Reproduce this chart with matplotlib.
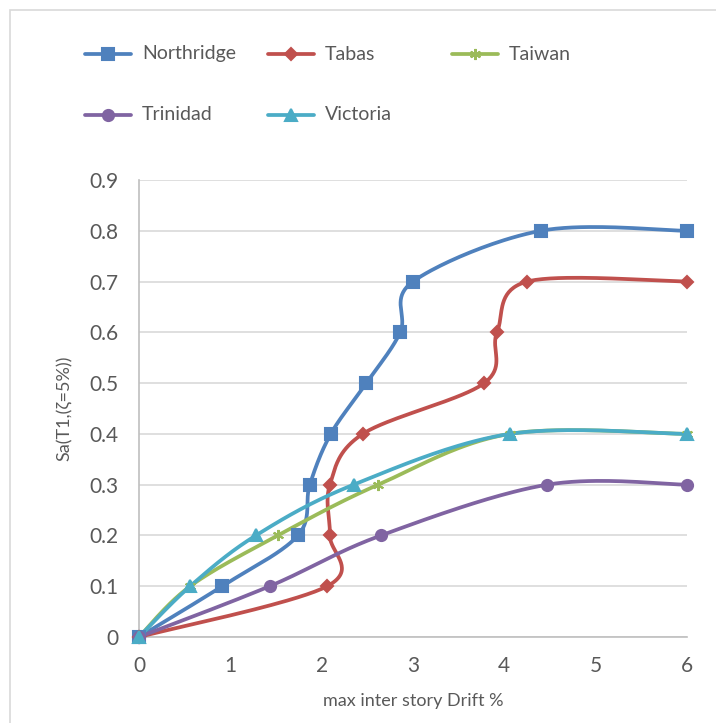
import numpy as np
import matplotlib.pyplot as plt
from matplotlib.lines import Line2D
from matplotlib.patches import Rectangle

# drift (%) vs Sa for each record
northridge_x = [0, 0.91, 1.74, 1.87, 2.10, 2.49, 2.86, 3.00, 4.40, 6.0]
northridge_y = [0, 0.1, 0.2, 0.3, 0.4, 0.5, 0.6, 0.7, 0.8, 0.8]
tabas_x = [0, 2.06, 2.09, 2.09, 2.45, 3.78, 3.92, 4.25, 6.0]
tabas_y = [0, 0.1, 0.2, 0.3, 0.4, 0.5, 0.6, 0.7, 0.7]
taiwan_x = [0, 0.56, 1.52, 2.62, 4.06, 6.0]
taiwan_y = [0, 0.1, 0.2, 0.3, 0.4, 0.4]
trinidad_x = [0, 1.43, 2.65, 4.47, 6.0]
trinidad_y = [0, 0.1, 0.2, 0.3, 0.3]
victoria_x = [0, 0.56, 1.28, 2.35, 4.06, 6.0]
victoria_y = [0, 0.1, 0.2, 0.3, 0.4, 0.4]

names = ["Northridge", "Tabas", "Taiwan", "Trinidad", "Victoria"]
colors = ["#4F81BD", "#C0504D", "#9BBB59", "#8064A2", "#4BACC6"]
markers = ["s", "D", (6, 2, 0), "o", "^"]
msizes = [8, 6, 8, 8, 8]
xticks = [0, 1, 2, 3, 4, 5, 6]
yticks = [0, 0.1, 0.2, 0.3, 0.4, 0.5, 0.6, 0.7, 0.8, 0.9]

plt.rcParams['font.family'] = ['Lato', 'DejaVu Sans']
txt = "#595959"

W, H = 716, 723
fig = plt.figure(figsize=(W / 100, H / 100), dpi=100)
ax = fig.add_axes([139 / W, 86 / H, 548 / W, 457 / H])
ax.set_xlim(0, 6)
ax.set_ylim(0, 0.9)


def smooth(xs, ys, n=40):
    # catmull-rom style bezier through the points, done in pixel space
    sx, sy = 548 / 6.0, 457 / 0.9
    p = np.column_stack([np.array(xs) * sx, np.array(ys) * sy])
    out = [p[0]]
    for i in range(len(p) - 1):
        p0 = p[i - 1] if i > 0 else p[i]
        p1, p2 = p[i], p[i + 1]
        p3 = p[i + 2] if i + 2 < len(p) else p[i + 1]
        c1 = p1 + (p2 - p0) / 6.0
        c2 = p2 - (p3 - p1) / 6.0
        t = np.linspace(0, 1, n)[1:, None]
        seg = ((1 - t) ** 3) * p1 + 3 * ((1 - t) ** 2) * t * c1 + 3 * (1 - t) * t ** 2 * c2 + t ** 3 * p2
        out.extend(seg)
    out = np.array(out)
    return out[:, 0] / sx, out[:, 1] / sy


series = [(northridge_x, northridge_y), (tabas_x, tabas_y), (taiwan_x, taiwan_y),
          (trinidad_x, trinidad_y), (victoria_x, victoria_y)]
for (xs, ys), c, m, ms in zip(series, colors, markers, msizes):
    cx, cy = smooth(xs, ys)
    ax.plot(cx, cy, color=c, lw=2.7, solid_capstyle='round', clip_on=False, zorder=3)
    ax.plot(xs, ys, ls='none', marker=m, ms=ms, color=c, mec=c, mew=1.5, clip_on=False, zorder=4)

ax.set_xticks(xticks)
ax.set_yticks(yticks)
ax.set_xticklabels([str(v) for v in xticks])
ax.set_yticklabels(["0"] + ["%.1f" % v for v in yticks[1:]])
ax.tick_params(length=0, labelsize=15, colors=txt)
ax.tick_params(axis='y', pad=15)
ax.tick_params(axis='x', pad=14)
ax.grid(axis='y', color="#D9D9D9", lw=1.2)
ax.set_axisbelow(True)
for s in ["top", "right"]:
    ax.spines[s].set_visible(False)
for s in ["left", "bottom"]:
    ax.spines[s].set_color("#BFBFBF")
    ax.spines[s].set_linewidth(1.2)

ax.set_xlabel("max inter story Drift %", fontsize=13, color=txt, labelpad=12)
ax.set_ylabel("Sa(T1,(ζ=5%))", fontsize=13, color=txt, labelpad=12)

# legend, three columns by two rows across the top
col_x = [85, 268, 452]
row_y = [54, 115]
for i, (name, c, m, ms) in enumerate(zip(names, colors, markers, msizes)):
    x0 = col_x[i % 3]
    y0 = H - row_y[i // 3]
    fig.add_artist(Line2D([x0 / W, (x0 + 46) / W], [y0 / H, y0 / H], color=c, lw=2.7,
                          solid_capstyle='round', marker=None))
    fig.add_artist(Line2D([(x0 + 23) / W], [y0 / H], ls='none', marker=m, ms=ms, color=c, mec=c, mew=1.5))
    fig.text((x0 + 57) / W, y0 / H, name, fontsize=14, color=txt, va='center', ha='left')

fig.add_artist(Rectangle((10 / W, -0.1), 1.2, (H - 10) / H + 0.1, transform=fig.transFigure,
                         fill=False, ec="#D9D9D9", lw=1.2))

fig.savefig("out.png", dpi=100)
